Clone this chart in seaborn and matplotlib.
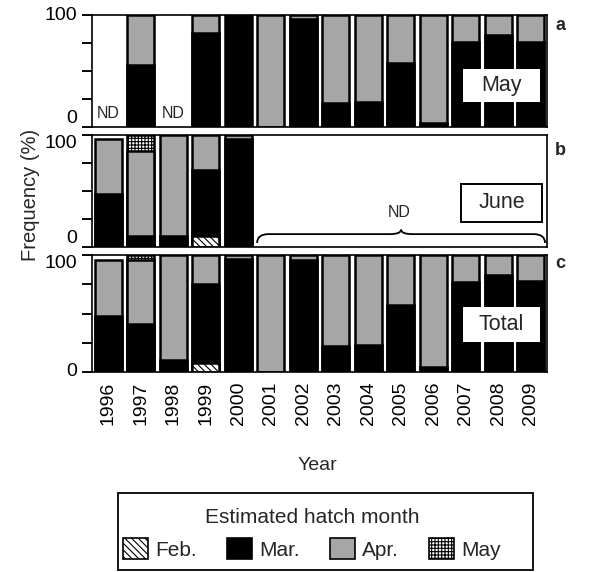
import numpy as np
import pandas as pd
import matplotlib
matplotlib.use("Agg")
import matplotlib.pyplot as plt
from matplotlib.patches import Patch, Rectangle, PathPatch
from matplotlib.lines import Line2D
from matplotlib.path import Path
import seaborn as sns

# ---------------------------------------------------------------- data
years = [str(y) for y in range(1996, 2010)]
months = ["Feb.", "Mar.", "Apr.", "May"]
y_ticks = [0, 25, 50, 75, 100]
y_ticklabels = ["0", "", "", "", "100"]

# Hatch-month composition (%) of fish sampled in May; None = not determined
may_feb = [None, 0, None, 2, 0, 0, 0, 0, 0, 0, 0, 0, 0, 0]
may_mar = [None, 55, None, 82, 100, 0, 96, 21, 22, 57, 4, 76, 82, 76]
may_apr = [None, 45, None, 16, 0, 100, 4, 79, 78, 43, 96, 24, 18, 24]
may_may = [None, 0, None, 0, 0, 0, 0, 0, 0, 0, 0, 0, 0, 0]

# Fish sampled in June (no sampling from 2001 on)
jun_feb = [0, 0, 0, 10, 0] + [None] * 9
jun_mar = [47, 10, 10, 59, 96] + [None] * 9
jun_apr = [49, 76, 90, 31, 4] + [None] * 9
jun_may = [0, 14, 0, 0, 0] + [None] * 9

# All fish combined
tot_feb = [0, 0, 0, 8, 0, 0, 0, 0, 0, 0, 0, 0, 0, 0]
tot_mar = [48, 41, 10, 67, 97, 0, 96, 22, 23, 57, 4, 77, 83, 78]
tot_apr = [48, 55, 90, 25, 3, 100, 4, 78, 77, 43, 96, 23, 17, 22]
tot_may = [0, 4, 0, 0, 0, 0, 0, 0, 0, 0, 0, 0, 0, 0]

panels = [
    ("a", "May", [may_feb, may_mar, may_apr, may_may]),
    ("b", "June", [jun_feb, jun_mar, jun_apr, jun_may]),
    ("c", "Total", [tot_feb, tot_mar, tot_apr, tot_may]),
]

# ---------------------------------------------------------------- style
sns.set_style("ticks")
plt.rcParams["font.family"] = ["Liberation Sans", "DejaVu Sans"]
plt.rcParams["hatch.linewidth"] = 0.8

GRAY = "#a6a6a6"
fills = {"Feb.": "white", "Mar.": "black", "Apr.": GRAY, "May": "white"}
hatches = {"Feb.": "\\\\\\\\\\", "Mar.": None, "Apr.": None, "May": "+++++"}

W, H = 590, 572
fig = plt.figure(figsize=(W / 100, H / 100), dpi=100)


def fx(px):
    return px / W


def fy(py):
    return 1 - py / H


# axes boxes in pixels: (left, top, right, bottom)
boxes = [(92, 15, 547, 127), (92, 135, 547, 247), (92, 255, 547, 372)]
axes = []
for (l, t, r, b) in boxes:
    axes.append(fig.add_axes([fx(l), fy(b), fx(r) - fx(l), fy(t) - fy(b)]))


def long_table(series):
    rows = []
    for m, vals in zip(months, series):
        for yr, v in zip(years, vals):
            if v is not None:
                rows.append({"year": yr, "month": m, "value": v})
    df = pd.DataFrame(rows)
    df["month"] = pd.Categorical(df["month"], months, ordered=True)
    df = df.sort_values(["year", "month"])
    df["top"] = df.groupby("year")["value"].cumsum()
    return df


label_boxes = {
    "May": dict(x0=0.815, y0=0.223, w=0.17, h=0.295, edge=False),
    "June": dict(x0=0.811, y0=0.223, w=0.178, h=0.34, edge=True),
    "Total": dict(x0=0.815, y0=0.256, w=0.17, h=0.30, edge=False),
}

letters = []
for ax, (letter, name, series) in zip(axes, panels):
    df = long_table(series)
    # stacked bars drawn as overlapping cumulative bars, topmost month first
    for m in reversed(months):
        sub = df[(df["month"] == m) & (df["value"] > 0)]
        if sub.empty:
            continue
        sns.barplot(data=sub, x="year", y="top", order=years, color=fills[m],
                    saturation=1, width=0.84, edgecolor="black", linewidth=1.8,
                    hatch=hatches[m], errorbar=None, ax=ax)
    ax.set_xlim(-0.5, len(years) - 0.5)
    ax.set_ylim(0, 100)
    ax.set_xlabel("")
    ax.set_ylabel("")
    for s in ax.spines.values():
        s.set_visible(True)
        s.set_color("black")
        s.set_linewidth(1.2)

    # label box in the panel
    lb = label_boxes[name]
    ax.add_patch(Rectangle((lb["x0"], lb["y0"]), lb["w"], lb["h"],
                           transform=ax.transAxes, facecolor="white",
                           edgecolor="black" if lb["edge"] else "white",
                           linewidth=1.4 if lb["edge"] else 0, zorder=5))
    ax.text(lb["x0"] + lb["w"] / 2, lb["y0"] + lb["h"] / 2, name,
            transform=ax.transAxes, ha="center", va="center", fontsize=15.5,
            zorder=6)
    letters.append(letter)

# panel letters
for letter, base in zip(letters, [30, 155, 268]):
    fig.text(fx(555), fy(base), letter, fontsize=13, fontweight="bold",
             va="baseline")

# x tick labels only on the bottom panel
for ax in axes[:2]:
    ax.set_xticks(range(len(years)))
    ax.tick_params(axis="x", length=0, labelbottom=False)
axes[2].set_xticks(range(len(years)))
axes[2].set_xticklabels(years, rotation=90)
axes[2].tick_params(axis="x", length=0, pad=7, labelsize=14, colors="black")

# y axis: ticks every 25 %, labels at 0 and 100 only
va_map = [("bottom", "center"), ("bottom", "top"), ("center", "top")]
for ax, (va0, va100) in zip(axes, va_map):
    ax.set_yticks(y_ticks)
    ax.set_yticklabels(y_ticklabels)
    ax.tick_params(axis="y", which="major", left=True, length=7, width=1.1,
                   pad=4, labelsize=14, direction="out", color="black",
                   labelcolor="black")
    labs = ax.get_yticklabels()
    labs[0].set_va(va0)
    labs[-1].set_va(va100)
    # outward tick strokes as top-level figure artists
    ytrans = ax.get_yaxis_transform()
    for v in y_ticks:
        fig.add_artist(Line2D([-0.022, 0], [v, v], transform=ytrans,
                              color="black", linewidth=1.1, zorder=20,
                              solid_capstyle="butt"))

# "ND" markers
nd_a = [i for i, v in enumerate(may_mar) if v is None]
for i in nd_a:
    axes[0].text(i, 12, "ND", ha="center", va="center", fontsize=11.5)

nd_b = [i for i, v in enumerate(jun_mar) if v is None]
x0, x1 = nd_b[0] - 0.42, nd_b[-1] + 0.44
xm = (x0 + x1) / 2
y_end, y_line, y_tip, r = 3.6, 11.5, 15.5, 0.35
verts = [(x0, y_end), (x0, y_line), (x0 + r, y_line),
         (xm - r, y_line), (xm, y_line), (xm, y_tip),
         (xm, y_line), (xm + r, y_line),
         (x1 - r, y_line), (x1, y_line), (x1, y_end)]
codes = [Path.MOVETO, Path.CURVE3, Path.CURVE3,
         Path.LINETO, Path.CURVE3, Path.CURVE3,
         Path.CURVE3, Path.CURVE3,
         Path.LINETO, Path.CURVE3, Path.CURVE3]
axes[1].add_patch(PathPatch(Path(verts, codes), facecolor="none",
                            edgecolor="black", linewidth=1.3, clip_on=False))
axes[1].text(xm - 0.05, 31, "ND", ha="center", va="center", fontsize=11.5)

# axis titles
fig.text(fx(30), fy(195), "Frequency (%)", rotation=90, ha="center",
         va="center", fontsize=14.5)
fig.text(fx(317), fy(465), "Year", ha="center", va="center", fontsize=14)

# legend with its own frame
fig.add_artist(Rectangle((fx(118), fy(570)), fx(533) - fx(118), fy(493) - fy(570),
                         transform=fig.transFigure, facecolor="white",
                         edgecolor="black", linewidth=1.3))
handles = [Patch(facecolor=fills[m], edgecolor="black", hatch=hatches[m],
                 linewidth=1.2) for m in months]
leg = fig.legend(handles, months, loc="center", ncol=4,
                 bbox_to_anchor=(fx(312), fy(534)), frameon=False,
                 title="Estimated hatch month", title_fontsize=15, fontsize=15,
                 handlelength=1.2, handleheight=1.2, handletextpad=0.35,
                 columnspacing=1.45, borderpad=0.2)

fig.savefig("out.png", dpi=100)
